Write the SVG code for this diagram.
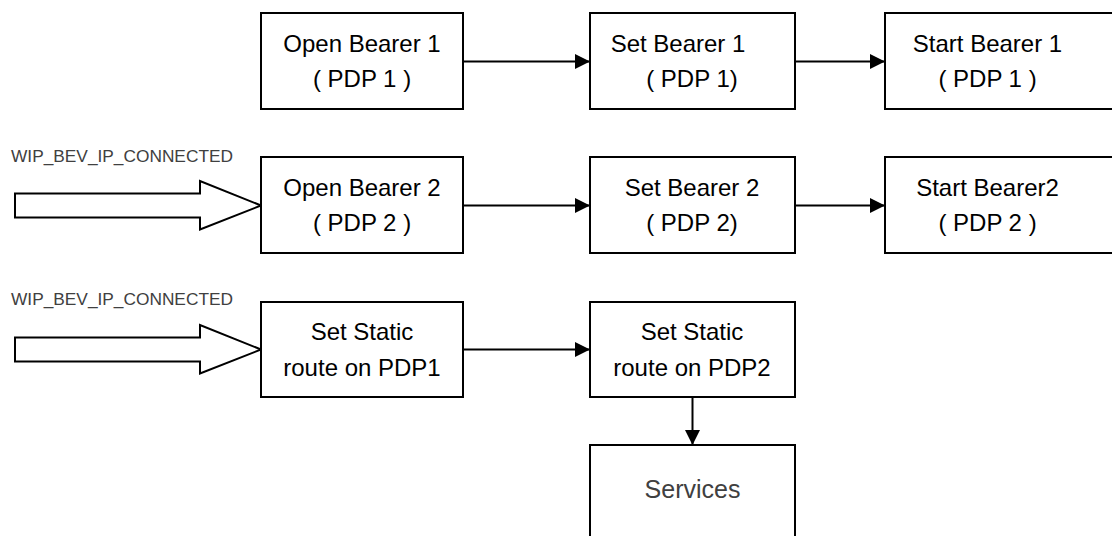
<svg xmlns="http://www.w3.org/2000/svg" width="1112" height="536" viewBox="0 0 1112 536">
<style>
.box{fill:#fff;stroke:#000;stroke-width:2}
.t{font-family:"Liberation Sans",Arial,sans-serif;font-size:24px;fill:#000;text-anchor:middle}
.g{font-family:"Liberation Sans",Arial,sans-serif;fill:#404040}
.c{fill:none;stroke:#000;stroke-width:2}
.blk{fill:#fff;stroke:#000;stroke-width:2;stroke-linejoin:miter}
</style>
<defs>
<marker id="ah" markerWidth="15" markerHeight="15" viewBox="0 0 15 15" refX="15" refY="7.5" orient="auto" markerUnits="userSpaceOnUse">
<path d="M0,0 L15,7.5 L0,15 Z" fill="#000"/>
</marker>
</defs>
<rect width="1112" height="536" fill="#fff"/>
<g id="connectors">
<line class="c" x1="463" y1="61.5" x2="590" y2="61.5" marker-end="url(#ah)"/>
<line class="c" x1="795" y1="61.5" x2="885" y2="61.5" marker-end="url(#ah)"/>
<line class="c" x1="463" y1="205.5" x2="590" y2="205.5" marker-end="url(#ah)"/>
<line class="c" x1="795" y1="205.5" x2="885" y2="205.5" marker-end="url(#ah)"/>
<line class="c" x1="463" y1="349.5" x2="590" y2="349.5" marker-end="url(#ah)"/>
<line class="c" x1="692.5" y1="397" x2="692.5" y2="445" marker-end="url(#ah)"/>
<polygon class="blk" points="15,193.5 200,193.5 200,181 261,205.5 200,229.5 200,217.5 15,217.5"/>
<polygon class="blk" points="15,337.5 200,337.5 200,325 261,349.5 200,373.5 200,361.5 15,361.5"/>
<text class="g" x="11" y="162" font-size="17" textLength="222" lengthAdjust="spacingAndGlyphs">WIP_BEV_IP_CONNECTED</text>
<text class="g" x="11" y="305" font-size="17" textLength="222" lengthAdjust="spacingAndGlyphs">WIP_BEV_IP_CONNECTED</text>
</g>
<g id="open1">
<rect class="box" x="261" y="13" width="202" height="96"/>
<text class="t" x="362" y="52">Open Bearer 1</text>
<text class="t" x="362" y="87">( PDP 1 )</text>
</g>
<g id="set1">
<rect class="box" x="590" y="13" width="205" height="96"/>
<text class="t" x="678" y="52">Set Bearer 1</text>
<text class="t" x="692" y="87">( PDP 1)</text>
</g>
<g id="start1">
<rect class="box" x="885" y="13" width="300" height="96"/>
<text class="t" x="987.5" y="52">Start Bearer 1</text>
<text class="t" x="987.5" y="87">( PDP 1 )</text>
</g>
<g id="open2">
<rect class="box" x="261" y="157" width="202" height="96"/>
<text class="t" x="362" y="196">Open Bearer 2</text>
<text class="t" x="362" y="231">( PDP 2 )</text>
</g>
<g id="set2">
<rect class="box" x="590" y="157" width="205" height="96"/>
<text class="t" x="692" y="196">Set Bearer 2</text>
<text class="t" x="692" y="231">( PDP 2)</text>
</g>
<g id="start2">
<rect class="box" x="885" y="157" width="300" height="96"/>
<text class="t" x="987.5" y="196">Start Bearer2</text>
<text class="t" x="987.5" y="231">( PDP 2 )</text>
</g>
<g id="static1">
<rect class="box" x="261" y="302" width="202" height="95"/>
<text class="t" x="362" y="340">Set Static</text>
<text class="t" x="362" y="376">route on PDP1</text>
</g>
<g id="static2">
<rect class="box" x="590" y="302" width="205" height="95"/>
<text class="t" x="692" y="340">Set Static</text>
<text class="t" x="692" y="376">route on PDP2</text>
</g>
<g id="services">
<rect class="box" x="590" y="445" width="205" height="120"/>
<text class="g" x="692.5" y="498" font-size="25" text-anchor="middle">Services</text>
</g>
</svg>
